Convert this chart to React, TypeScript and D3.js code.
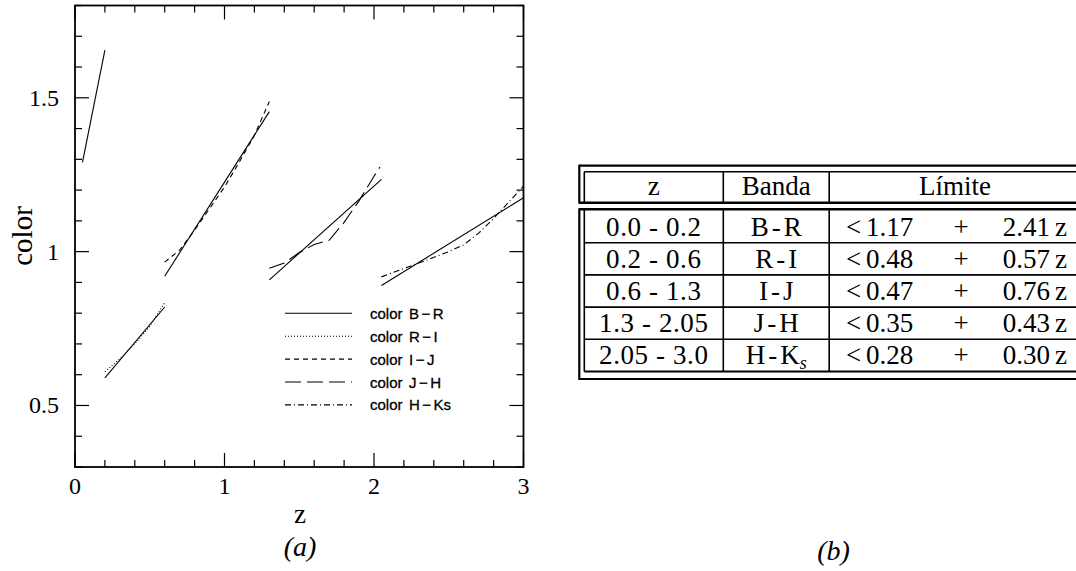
import React from "react";
import * as d3 from "d3";

// ---------- data ----------
const xDomain: [number, number] = [0, 3];
const yDomain: [number, number] = [0.3, 1.8];
const xMajorTicks = [0, 1, 2, 3];
const xTickLabels = ["0", "1", "2", "3"];
const yMajorTicks = [0.5, 1, 1.5];
const yTickLabels = ["0.5", "1", "1.5"];

// limit lines (solid)
const limitBR: [number, number][] = [[0.05, 1.29], [0.2, 1.655]];
const limitRI: [number, number][] = [[0.2, 0.59], [0.6, 0.82]];
const limitIJ: [number, number][] = [[0.6, 0.92], [1.3, 1.455]];
const limitJH: [number, number][] = [[1.3, 0.908], [2.05, 1.235]];
const limitHK: [number, number][] = [[2.05, 0.89], [3.0, 1.175]];

// colour curves
const colorRI: [number, number][] = [[0.2, 0.61], [0.3, 0.652], [0.4, 0.7], [0.5, 0.757], [0.6, 0.835]];
const colorIJ: [number, number][] = [[0.6, 0.966], [0.7, 1.005], [0.8, 1.07], [0.9, 1.14], [1.0, 1.21], [1.1, 1.292], [1.2, 1.378], [1.3, 1.488]];
const colorJH: [number, number][] = [[1.3, 0.946], [1.4, 0.963], [1.5, 0.997], [1.6, 1.023], [1.7, 1.037], [1.8, 1.095], [1.9, 1.165], [2.0, 1.245], [2.04, 1.275]];
const colorHK: [number, number][] = [[2.05, 0.918], [2.2, 0.945], [2.35, 0.972], [2.5, 1.0], [2.6, 1.022], [2.7, 1.06], [2.8, 1.108], [2.9, 1.16], [3.0, 1.213]];

const legendNames = ["color", "color", "color", "color", "color"];
const legendBandA = ["B", "R", "I", "J", "H"];
const legendBandB = ["R", "I", "J", "H", "Ks"];

const tableHeaders = ["z", "Banda", "Límite"];
const tableZRanges = ["0.0 - 0.2", "0.2 - 0.6", "0.6 - 1.3", "1.3 - 2.05", "2.05 - 3.0"];
const tableBandA = ["B", "R", "I", "J", "H"];
const tableBandB = ["R", "I", "J", "H", "K"];
const tableBandSub = ["", "", "", "", "s"];
const tableIntercepts = ["1.17", "0.48", "0.47", "0.35", "0.28"];
const tableSlopes = ["2.41", "0.57", "0.76", "0.43", "0.30"];

// ---------- styles ----------
const dashes = ["none", "1,2", "5,4", "16,6", "6,3,1,3"];
const serif = "'Liberation Serif', serif";
const sans = "'Liberation Sans', sans-serif";

export default function App() {
  const x = d3.scaleLinear().domain(xDomain).range([75, 523.5]);
  const y = d3.scaleLinear().domain(yDomain).range([467, 5.5]);
  const line = d3
    .line<[number, number]>()
    .x((d) => x(d[0]))
    .y((d) => y(d[1]));

  const xMinor = x.ticks(15);
  const yMinor = y.ticks(15);
  const [x0, x1] = x.range();
  const [y0, y1] = y.range();

  const limits = [limitBR, limitRI, limitIJ, limitJH, limitHK];
  const curves: { d: [number, number][]; dash: string }[] = [
    { d: colorRI, dash: dashes[1] },
    { d: colorIJ, dash: dashes[2] },
    { d: colorJH, dash: dashes[3] },
    { d: colorHK, dash: dashes[4] },
  ];

  // table geometry
  const tL = 579.3, tLi = 584.3, tR = 1090;
  const hTop = 165.7, hTopI = 171.8, hBot = 202.7;
  const bTop = 209.3, rowTop = 210.5, rowH = 32.2;
  const bBotI = rowTop + rowH * 5, bBot = bBotI + 7.5;
  const col1 = 723.3, col2 = 829.2;
  const fs = 27;

  return (
    <svg width={1076} height={571} style={{ position: "absolute", left: 0, top: 0, background: "#fff" }}>
      <rect x={0} y={0} width={1076} height={571} fill="#fff" />
      {/* frame */}
      <rect x={x0} y={y1} width={x1 - x0} height={y0 - y1} fill="none" stroke="#000" strokeWidth={1.8} />
      {/* x ticks */}
      {xMinor.map((t, i) => {
        const major = xMajorTicks.includes(Math.round(t * 10) / 10);
        const L = major ? 14 : 7;
        return (
          <g key={"xt" + i} stroke="#000" strokeWidth={1.2}>
            <line x1={x(t)} x2={x(t)} y1={y0} y2={y0 - L} />
            <line x1={x(t)} x2={x(t)} y1={y1} y2={y1 + L} />
          </g>
        );
      })}
      {yMinor.map((t, i) => {
        const major = yMajorTicks.includes(Math.round(t * 10) / 10);
        const L = major ? 14 : 7;
        return (
          <g key={"yt" + i} stroke="#000" strokeWidth={1.2}>
            <line x1={x0} x2={x0 + L} y1={y(t)} y2={y(t)} />
            <line x1={x1} x2={x1 - L} y1={y(t)} y2={y(t)} />
          </g>
        );
      })}
      {xMajorTicks.map((t, i) => (
        <text key={"xl" + i} x={x(t)} y={494} textAnchor="middle" fontFamily={serif} fontSize={24}>
          {xTickLabels[i]}
        </text>
      ))}
      {yMajorTicks.map((t, i) => (
        <text key={"yl" + i} x={59} y={y(t) + 8} textAnchor="end" fontFamily={serif} fontSize={24}>
          {yTickLabels[i]}
        </text>
      ))}
      <text x={300} y={523} textAnchor="middle" fontFamily={serif} fontSize={27}>z</text>
      <text
        transform={`translate(32,236) rotate(-90)`}
        textAnchor="middle"
        fontFamily={serif}
        fontSize={29}
      >
        color
      </text>

      {/* data */}
      {limits.map((d, i) => (
        <path key={"lim" + i} d={line(d) || ""} fill="none" stroke="#000" strokeWidth={1.1} />
      ))}
      {curves.map((c, i) => (
        <path key={"cur" + i} d={line(c.d) || ""} fill="none" stroke="#000" strokeWidth={1.1} strokeDasharray={c.dash} />
      ))}

      {/* legend */}
      {legendBandA.map((a, i) => {
        const ly = 313.3 + i * 22.9;
        return (
          <g key={"lg" + i}>
            <line x1={285} x2={352} y1={ly} y2={ly} stroke="#000" strokeWidth={1.1} strokeDasharray={dashes[i]} />
            <text x={370} y={ly + 5.5} fontFamily={sans} fontSize={15} stroke="#000" strokeWidth={0.3}>
              {legendNames[i]}
            </text>
            <text x={409} y={ly + 5.5} fontFamily={sans} fontSize={15} stroke="#000" strokeWidth={0.3}>
              {a}
              <tspan dx={2.5}>−</tspan>
              <tspan dx={2.5}>{legendBandB[i]}</tspan>
            </text>
          </g>
        );
      })}

      <text x={300} y={556} textAnchor="middle" fontFamily={serif} fontStyle="italic" fontSize={28}>(a)</text>
      <text x={833.5} y={560} textAnchor="middle" fontFamily={serif} fontStyle="italic" fontSize={28}>(b)</text>

      {/* table */}
      <g stroke="#000" fill="none">
        {/* header */}
        <line x1={tL} x2={tR} y1={hTop} y2={hTop} strokeWidth={2.2} />
        <line x1={tLi} x2={tR} y1={hTopI} y2={hTopI} strokeWidth={1.6} />
        <line x1={tL} x2={tR} y1={hBot} y2={hBot} strokeWidth={2.6} />
        <line x1={tL} x2={tL} y1={hTop - 1} y2={hBot + 1} strokeWidth={2.2} />
        <line x1={tLi} x2={tLi} y1={hTopI} y2={hBot} strokeWidth={1.6} />
        <line x1={col1} x2={col1} y1={hTopI} y2={hBot} strokeWidth={1.6} />
        <line x1={col2} x2={col2} y1={hTopI} y2={hBot} strokeWidth={1.6} />
        {/* body */}
        <line x1={tL} x2={tR} y1={bTop} y2={bTop} strokeWidth={2.6} />
        <line x1={tL} x2={tL} y1={bTop - 1} y2={bBot + 1} strokeWidth={2.2} />
        <line x1={tLi} x2={tLi} y1={bTop} y2={bBotI} strokeWidth={1.6} />
        <line x1={tLi} x2={tR} y1={bBotI} y2={bBotI} strokeWidth={1.8} />
        <line x1={tL} x2={tR} y1={bBot} y2={bBot} strokeWidth={2.2} />
        <line x1={col1} x2={col1} y1={bTop} y2={bBotI} strokeWidth={1.6} />
        <line x1={col2} x2={col2} y1={bTop} y2={bBotI} strokeWidth={1.6} />
        {tableZRanges.slice(1).map((_, i) => (
          <line key={"rs" + i} x1={tLi} x2={tR} y1={rowTop + rowH * (i + 1)} y2={rowTop + rowH * (i + 1)} strokeWidth={1.6} />
        ))}
      </g>
      <g fontFamily={serif} fontSize={fs} fill="#000">
        <text x={(tLi + col1) / 2} y={195} textAnchor="middle">{tableHeaders[0]}</text>
        <text x={(col1 + col2) / 2} y={195} textAnchor="middle">{tableHeaders[1]}</text>
        <text x={955} y={195} textAnchor="middle">{tableHeaders[2]}</text>
        {tableZRanges.map((zr, i) => {
          const by = rowTop + rowH * (i + 0.5) + 9;
          return (
            <g key={"row" + i}>
              <text x={(tLi + col1) / 2} y={by} textAnchor="middle" letterSpacing={0.6}>{zr}</text>
              <text x={(col1 + col2) / 2} y={by} textAnchor="middle">
                {tableBandA[i]}
                <tspan dx={3}>-</tspan>
                <tspan dx={3}>{tableBandB[i]}</tspan>
                {tableBandSub[i] ? (
                  <tspan dy={5} fontSize={18} fontStyle="italic">{tableBandSub[i]}</tspan>
                ) : null}
              </text>
              <text x={846} y={by}>&lt;</text>
              <text x={866} y={by}>{tableIntercepts[i]}</text>
              <text x={961} y={by} textAnchor="middle">+</text>
              <text x={1050} y={by} textAnchor="end">{tableSlopes[i]}</text>
              <text x={1055} y={by}>z</text>
            </g>
          );
        })}
      </g>
    </svg>
  );
}
